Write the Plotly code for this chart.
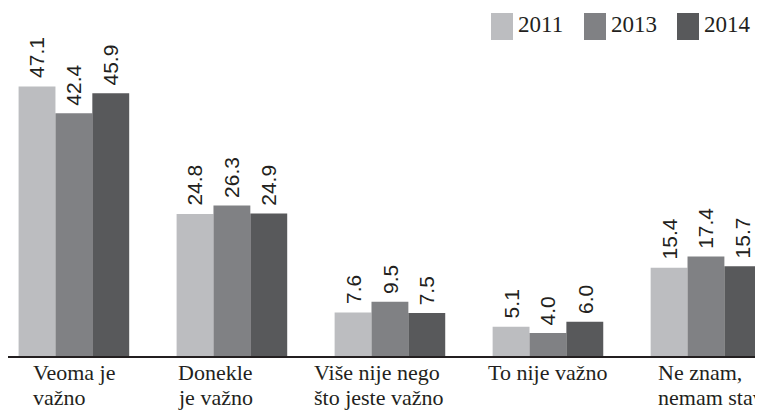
import plotly.graph_objects as go

categories = ["Veoma je<br>važno", "Donekle<br>je važno", "Više nije nego<br>što jeste važno",
              "To nije važno", "Ne znam,<br>nemam stav"]
years = ["2011", "2013", "2014"]
v2011 = [47.1, 24.8, 7.6, 5.1, 15.4]
v2013 = [42.4, 26.3, 9.5, 4.0, 17.4]
v2014 = [45.9, 24.9, 7.5, 6.0, 15.7]

colors = ["#bcbdc0", "#808184", "#58595b"]
TXT = "#231f20"
OFF = 8  # page body margin
W, H = 763 - OFF, 410 - OFF
ML, MR, MT, MB = 0, 0, 0, 54
PW, PH = W - ML - MR, H - MT - MB
BARGAP = 0.3

def px2paper_x(px):
    return (px - OFF - ML) / PW

def px2paper_y(py):
    return (H - MB - (py - OFF)) / PH

fig = go.Figure()
annotations = []
series = [v2011, v2013, v2014]
bw = (1 - BARGAP) / len(series)
for k, (name, vals, c) in enumerate(zip(years, series, colors)):
    fig.add_trace(go.Bar(
        x=list(range(len(categories))), y=vals, name=name,
        marker=dict(color=c, line=dict(width=0)),
        showlegend=False, hoverinfo="x+y+name",
    ))
    for i, v in enumerate(vals):
        annotations.append(dict(
            text=f"{v:.1f}", x=i + (k - 1) * bw, y=v, xref="x", yref="y",
            xanchor="center", yanchor="bottom", textangle=-90, yshift=6,
            showarrow=False, font=dict(family="Liberation Sans", size=21, color=TXT),
        ))

# category labels (left aligned, multi-line)
label_px = [32, 177, 313, 487, 657]
line_base = [378, 403]
for lab, lx in zip(categories, label_px):
    for j, line in enumerate(lab.split("<br>")):
        annotations.append(dict(
            text=line, xref="paper", yref="paper",
            x=px2paper_x(lx), y=px2paper_y(line_base[j] - 6), xanchor="left", yanchor="middle",
            align="left", showarrow=False, borderpad=0,
            font=dict(family="Liberation Serif", size=22, color=TXT),
        ))

# legend built manually
shapes = []
leg_sq = [491, 584, 677]
for name, c, sx in zip(years, colors, leg_sq):
    shapes.append(dict(type="rect", xref="paper", yref="paper",
                       x0=px2paper_x(sx), x1=px2paper_x(sx + 22),
                       y0=px2paper_y(40), y1=px2paper_y(13),
                       fillcolor=c, line=dict(width=0)))
    annotations.append(dict(
        text=name, xref="paper", yref="paper",
        x=px2paper_x(sx + 26), y=px2paper_y(25), xanchor="left", yanchor="middle",
        showarrow=False, borderpad=0,
        font=dict(family="Liberation Serif", size=23, color=TXT),
    ))

fig.update_layout(
    width=W, height=H,
    margin=dict(l=ML, r=MR, t=MT, b=MB),
    paper_bgcolor="white", plot_bgcolor="white",
    barmode="group", bargap=BARGAP, bargroupgap=0,
    showlegend=False,
    xaxis=dict(range=[-0.417, 4.361], showticklabels=False, ticks="",
               showgrid=False, zeroline=False,
               showline=True, linecolor=TXT, linewidth=1.5),
    yaxis=dict(range=[0, 60.8], visible=False, showgrid=False, zeroline=False),
    annotations=annotations, shapes=shapes,
)
fig.write_html("out.html")
